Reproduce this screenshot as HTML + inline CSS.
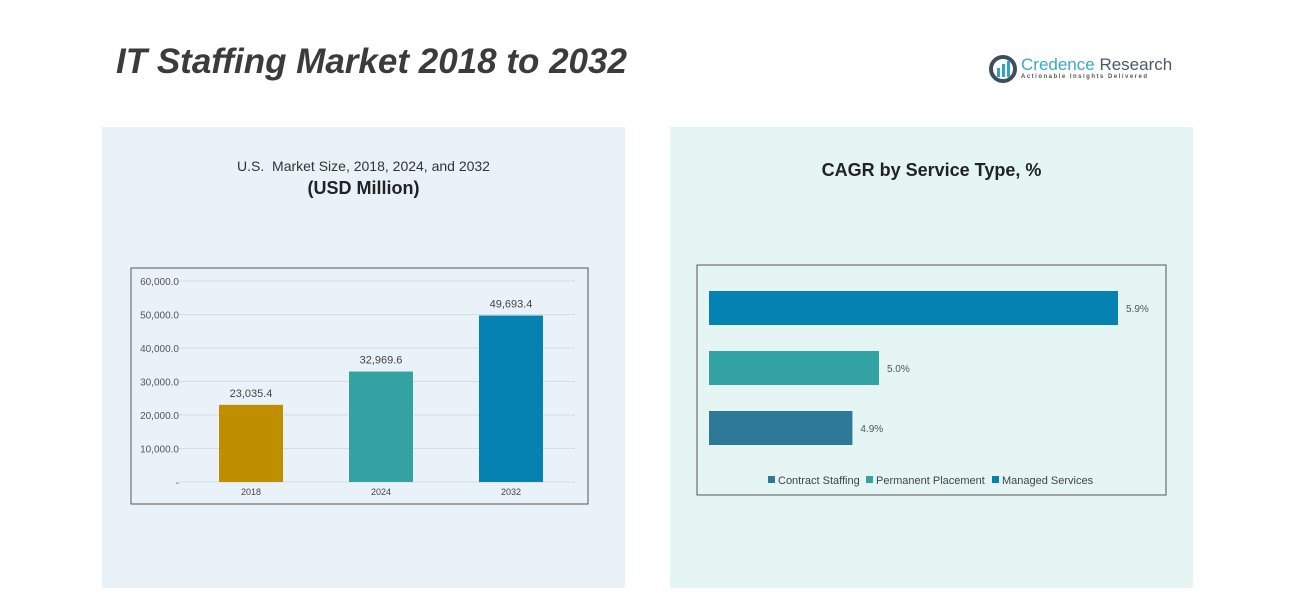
<!DOCTYPE html>
<html><head><meta charset="utf-8">
<style>
body{margin:0;width:1305px;height:616px;background:#fff;position:relative;overflow:hidden;font-family:"Liberation Sans",sans-serif;}
.abs{position:absolute;}
</style></head>
<body>
<div class="abs" style="left:102px;top:127px;width:523px;height:461px;background:#eaf2f9;"></div>
<div class="abs" style="left:670px;top:127px;width:523px;height:461px;background:#e4f5f4;"></div>
<div class="abs" style="left:116px;top:42px;font-size:35px;font-weight:bold;font-style:italic;color:#3b3b3b;">IT Staffing Market 2018 to 2032</div>
<div class="abs" style="left:988px;top:54px;">
 <svg width="30" height="30" style="position:absolute;left:0;top:0"><circle cx="15" cy="15" r="12" fill="none" stroke="#3d4f5c" stroke-width="4"/><rect x="9" y="14" width="3" height="9" fill="#2aa6c8"/><rect x="14" y="10" width="3" height="13" fill="#2aa6c8"/><rect x="19" y="7" width="3" height="16" fill="#2aa6c8"/></svg>
 <div style="position:absolute;left:33px;top:1px;font-size:17px;color:#3aa8c8;white-space:nowrap;">Credence <span style="color:#4a5a66">Research</span></div>
 <div style="position:absolute;left:33px;top:20px;font-size:6px;letter-spacing:1.5px;color:#555;white-space:nowrap;font-weight:bold;">Actionable Insights Delivered</div>
</div>
<div class="abs" style="left:102px;width:523px;top:158px;text-align:center;font-size:14px;color:#333;">U.S.&nbsp; Market Size, 2018, 2024, and 2032</div>
<div class="abs" style="left:102px;width:523px;top:178px;text-align:center;font-size:18px;font-weight:bold;color:#222;">(USD Million)</div>
<div class="abs" style="left:670px;width:523px;top:160px;text-align:center;font-size:18px;font-weight:bold;color:#222;">CAGR by Service Type, %</div>

<svg id="c1" class="abs" style="left:0;top:0" width="1305" height="616">
 <rect x="131" y="268" width="457" height="236" fill="none" stroke="#555" stroke-width="1"/>
</svg>
<svg id="c2" class="abs" style="left:0;top:0" width="1305" height="616">
 <rect x="697" y="265" width="469" height="230" fill="none" stroke="#555" stroke-width="1"/>
</svg>
<script>
const years=["2018","2024","2032"];
const sizes=[23035.4,32969.6,49693.4];
const sizeLabels=["23,035.4","32,969.6","49,693.4"];
const yTicks=[0,10000,20000,30000,40000,50000,60000];
const yTickLabels=["-","10,000.0","20,000.0","30,000.0","40,000.0","50,000.0","60,000.0"];
const services=["Managed Services","Permanent Placement","Contract Staffing"];
const cagr=[5.9,5.0,4.9];
const cagrLabels=["5.9%","5.0%","4.9%"];
const legendNames=["Contract Staffing","Permanent Placement","Managed Services"];
const NS="http://www.w3.org/2000/svg";
function mk(svg,tag,attrs,txt){const e=document.createElementNS(NS,tag);for(const k in attrs)e.setAttribute(k,attrs[k]);if(txt!==undefined)e.textContent=txt;svg.appendChild(e);return e;}
const c1=document.getElementById('c1');
const y=v=>482-v*(201/60000);
const x=i=>251+i*130;
yTicks.forEach((t,i)=>{
 const g=mk(c1,'line',{x1:178,x2:575,y1:y(t),y2:y(t),stroke:'#d5dde3','stroke-width':1});
 
 
 const l=mk(c1,'text',{x:179,y:y(t)+4,'text-anchor':'end','font-size':10,fill:'#555','font-family':'Liberation Sans'},yTickLabels[i]);
 
 
});
const cols1=["#c08f00","#33a2a2","#0582b2"];
sizes.forEach((v,i)=>{
 const b=mk(c1,'rect',{x:x(i)-32,y:y(v),width:64,height:482-y(v),fill:cols1[i]});
 
 
 const t=mk(c1,'text',{x:x(i),y:y(v)-8,'text-anchor':'middle','font-size':11,fill:'#444','font-family':'Liberation Sans'},sizeLabels[i]);
 
 
 const c=mk(c1,'text',{x:x(i),y:495,'text-anchor':'middle','font-size':9,fill:'#444','font-family':'Liberation Sans'},years[i]);
 
 
});
const c2=document.getElementById('c2');
const xMin=4.36, px=409/(5.9-4.36);
const bx=v=>709+(v-xMin)*px;
const cols2=["#0582b2","#33a2a2","#2e7898"];
cagr.forEach((v,i)=>{
 const top=291+i*60;
 const b=mk(c2,'rect',{x:709,y:top,width:bx(v)-709,height:34,fill:cols2[i]});
 
 
 const t=mk(c2,'text',{x:bx(v)+8,y:top+21,'font-size':10,fill:'#555','font-family':'Liberation Sans'},cagrLabels[i]);
 
 
});
const legCols=["#2e7898","#33a2a2","#0582b2"];
const legX=[768,866,992];
legendNames.forEach((n,i)=>{
 const g=mk(c2,'g',{});
 
 
 mk(g,'rect',{x:legX[i],y:476,width:7,height:7,fill:legCols[i]});
 mk(g,'text',{x:legX[i]+10,y:484,'font-size':11,fill:'#444','font-family':'Liberation Sans'},n);
});
</script>
</body></html>
